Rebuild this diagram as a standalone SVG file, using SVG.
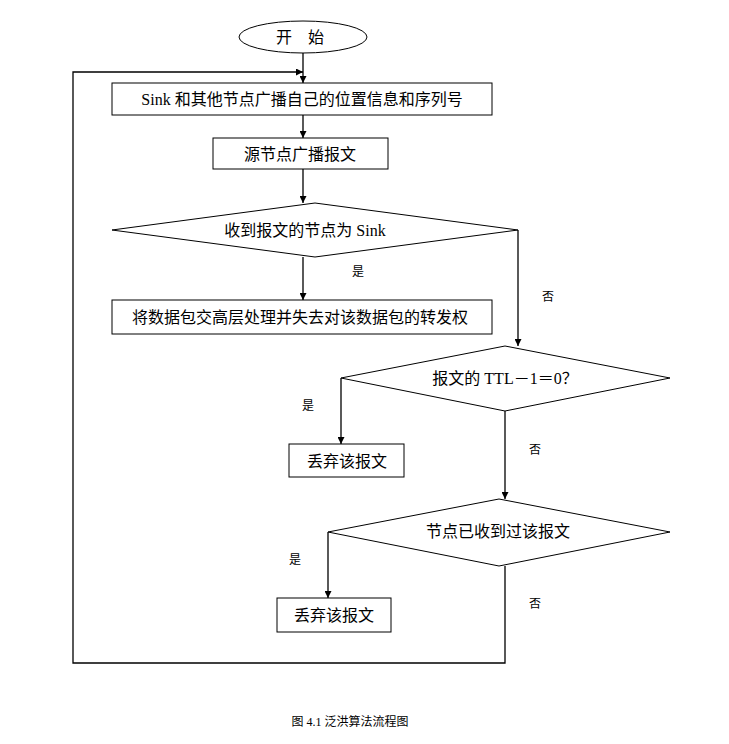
<svg xmlns="http://www.w3.org/2000/svg" width="729" height="744" viewBox="0 0 729 744">
<style>
.s{fill:#fff;stroke:#000;stroke-width:1}
.t{font-family:"Liberation Serif","Noto Sans CJK SC",serif;font-size:16px;text-anchor:middle;fill:#000}
.l{font-family:"Liberation Serif","Noto Sans CJK SC",serif;font-size:12px;text-anchor:middle;fill:#000}
.c{fill:none;stroke:#000;stroke-width:1.3}
</style>
<defs><marker id="a" viewBox="0 0 10 10" refX="10" refY="5" markerWidth="7" markerHeight="7" orient="auto" markerUnits="userSpaceOnUse"><path d="M0,0L10,5L0,10z"/></marker></defs>
<rect width="729" height="744" fill="#fff"/>
<g id="connectors">
<path class="c" d="M303,52V83" marker-end="url(#a)"/>
<path class="c" d="M303,115V138" marker-end="url(#a)"/>
<path class="c" d="M303,169V203" marker-end="url(#a)"/>
<path class="c" d="M303,257V300" marker-end="url(#a)"/>
<path class="c" d="M518,230V346" marker-end="url(#a)"/>
<path class="c" d="M341,378V444" marker-end="url(#a)"/>
<path class="c" d="M505,411V499" marker-end="url(#a)"/>
<path class="c" d="M328,532V598" marker-end="url(#a)"/>
<path class="c" d="M505,566V663H73V72H303" marker-end="url(#a)"/>
</g>
<g id="start"><ellipse class="s" cx="303" cy="37" rx="64" ry="16"/><text class="t" x="303" y="43" letter-spacing="6">开 始</text></g>
<g id="n1"><rect class="s" x="112" y="83" width="380" height="32"/><text class="t" x="302" y="105">Sink 和其他节点广播自己的位置信息和序列号</text></g>
<g id="n2"><rect class="s" x="213" y="138" width="175" height="31"/><text class="t" x="300" y="160">源节点广播报文</text></g>
<g id="d1"><polygon class="s" points="112,230 315,203 518,230 315,257"/><text class="t" x="305" y="236">收到报文的节点为 Sink</text></g>
<g id="n3"><rect class="s" x="112" y="300" width="380" height="34"/><text class="t" x="300" y="323">将数据包交高层处理并失去对该数据包的转发权</text></g>
<g id="d2"><polygon class="s" points="341,378 505,346 670,378 505,411"/><text class="t" x="505" y="384">报文的 TTL－1＝0？</text></g>
<g id="n4"><rect class="s" x="289" y="444" width="115" height="33"/><text class="t" x="347" y="467">丢弃该报文</text></g>
<g id="d3"><polygon class="s" points="328,532 499,499 670,532 499,566"/><text class="t" x="498" y="537">节点已收到过该报文</text></g>
<g id="n5"><rect class="s" x="277" y="598" width="114" height="34"/><text class="t" x="334" y="621">丢弃该报文</text></g>
<g id="labels">
<text class="l" x="358" y="276">是</text>
<text class="l" x="548" y="301">否</text>
<text class="l" x="308" y="410">是</text>
<text class="l" x="535" y="454">否</text>
<text class="l" x="295" y="564">是</text>
<text class="l" x="535" y="608">否</text>
<text class="l" x="350" y="726">图 4.1  泛洪算法流程图</text>
</g>
</svg>
